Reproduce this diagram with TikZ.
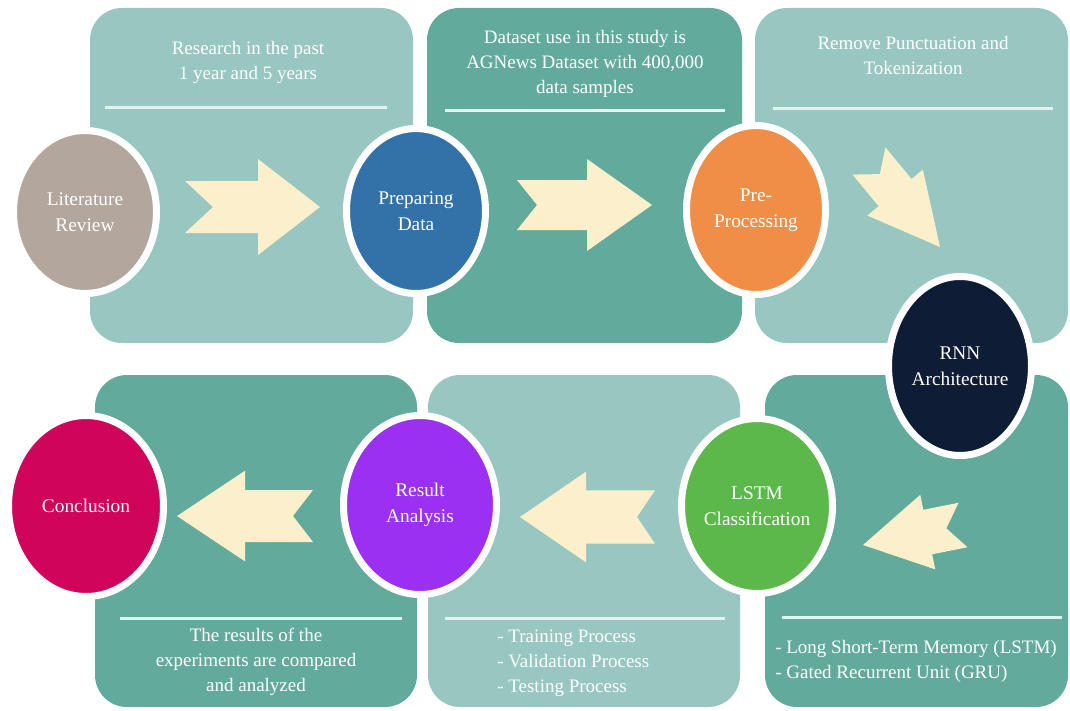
\documentclass[tikz,border=0pt]{standalone}
\usepackage{fontspec}
\setmainfont{Liberation Serif}
\usetikzlibrary{shapes.geometric,calc}

\definecolor{panelLight}{HTML}{98C6C0}
\definecolor{panelDark}{HTML}{62AA9B}
\definecolor{ruleLine}{HTML}{E2F3F0}
\definecolor{arrowCream}{HTML}{FCF0CC}
\definecolor{cTaupe}{HTML}{B3A69C}
\definecolor{cBlue}{HTML}{3272A8}
\definecolor{cOrange}{HTML}{F08D47}
\definecolor{cNavy}{HTML}{0E1C36}
\definecolor{cGreen}{HTML}{5CB84B}
\definecolor{cPurple}{HTML}{9B30F2}
\definecolor{cCrimson}{HTML}{D0045A}

\tikzset{
  panel/.style={rounded corners=24pt},
  rule/.style={draw=ruleLine, line width=2.25pt},
  stage/.style={ellipse, draw=white, line width=5.25pt, inner sep=0pt,
    align=center, text=white, font=\fontsize{14.5}{19.5}\selectfont},
  note/.style={text=white, font=\fontsize{14.25}{18.75}\selectfont, inner sep=0pt},
  arrowfill/.style={fill=arrowCream},
}

% block arrow with a notched tail:
% #1 tail centre, #2 tip, #3 notch depth, #4 head-base distance,
% #5 shaft half-width, #6 head half-width
\newcommand\blockarrow[6]{%
  \coordinate (ba-n) at ($(#1)!#3!(#2)$);
  \coordinate (ba-b) at ($(#1)!#4!(#2)$);
  \fill[arrowfill] ($(#1)!#5!90:(#2)$) -- ($(ba-b)!#5!90:(#2)$)
    -- ($(ba-b)!#6!90:(#2)$) -- (#2) -- ($(ba-b)!#6!-90:(#2)$)
    -- ($(ba-b)!#5!-90:(#2)$) -- ($(#1)!#5!-90:(#2)$) -- (ba-n) -- cycle;
}

\begin{document}
\begin{tikzpicture}[x=0.75pt,y=-0.75pt]
\useasboundingbox[fill=white] (0,0) rectangle (1070,710);

% panels
\fill[panelLight, panel] (90,8) rectangle (413,343);
\fill[panelDark, panel] (427,8) rectangle (742,343);
\fill[panelLight, panel] (755,8) rectangle (1068,343);
\fill[panelDark, panel] (95,375) rectangle (417,707);
\fill[panelLight, panel] (428,375) rectangle (740,707);
\fill[panelDark, panel] (765,375) rectangle (1068,707);

% separator rules
\draw[rule] (105,107) -- (387,107);
\draw[rule] (445,110) -- (725,110);
\draw[rule] (773,108) -- (1053,108);
\draw[rule] (120,618) -- (402,618);
\draw[rule] (445,618) -- (725,618);
\draw[rule] (782,617) -- (1062,617);

% panel notes
\node[note, align=center] (n1) at (248,62) {Research in the past\\1 year and 5 years};
\node[note, align=center] (n2) at (585,64) {Dataset use in this study is\\AGNews Dataset with 400,000\\data samples};
\node[note, align=center] (n3) at (913,56) {Remove Punctuation and\\Tokenization};
\node[note, align=left, anchor=west] (n4) at (775,661) {- Long Short-Term Memory (LSTM)\\- Gated Recurrent Unit (GRU)};
\node[note, align=left, anchor=west] (n5) at (497,663) {- Training Process\\- Validation Process\\- Testing Process};
\node[note, align=center] (n6) at (256,662) {The results of the\\experiments are compared\\and analyzed};

% arrows between stages
\coordinate (a1t) at (185,207); \coordinate (a1h) at (320,207);
\coordinate (a2t) at (517,205); \coordinate (a2h) at (652,205);
\coordinate (a3t) at (869,161); \coordinate (a3h) at (940,247);
\coordinate (a4t) at (963,525); \coordinate (a4h) at (863,545);
\coordinate (a5t) at (655,517); \coordinate (a5h) at (520,517);
\coordinate (a6t) at (313,516); \coordinate (a6h) at (177,516);
\blockarrow{a1t}{a1h}{21pt}{54.75pt}{19.5pt}{36pt}
\blockarrow{a2t}{a2h}{15pt}{52.5pt}{18.75pt}{34.5pt}
\blockarrow{a3t}{a3h}{12.75pt}{30.75pt}{16pt}{27pt}
\blockarrow{a4t}{a4h}{12.75pt}{27pt}{17pt}{28.5pt}
\blockarrow{a5t}{a5h}{13.5pt}{51.75pt}{20pt}{34pt}
\blockarrow{a6t}{a6h}{15pt}{51pt}{19.5pt}{34pt}

% stages
\node[stage, fill=cTaupe, minimum width=107.25pt, minimum height=122.25pt] (lit) at (85,212) {Literature\\Review};
\node[stage, fill=cBlue, minimum width=104.25pt, minimum height=123.75pt] (prep) at (416,211) {Preparing\\Data};
\node[stage, fill=cOrange, minimum width=104.25pt, minimum height=126.75pt] (pre) at (756,210) {Pre-\\Processing};
\node[stage, fill=cNavy, minimum width=107.25pt, minimum height=134.25pt] (rnn) at (960,366) {RNN\\Architecture};
\node[stage, fill=cGreen, minimum width=113.25pt, minimum height=131.25pt] (lstm) at (757,506) {LSTM\\Classification};
\node[stage, fill=cPurple, minimum width=114.75pt, minimum height=134.25pt] (res) at (420,505) {Result\\Analysis};
\node[stage, fill=cCrimson, minimum width=116.25pt, minimum height=135.75pt] (conc) at (86,506) {Conclusion};
\end{tikzpicture}
\end{document}
